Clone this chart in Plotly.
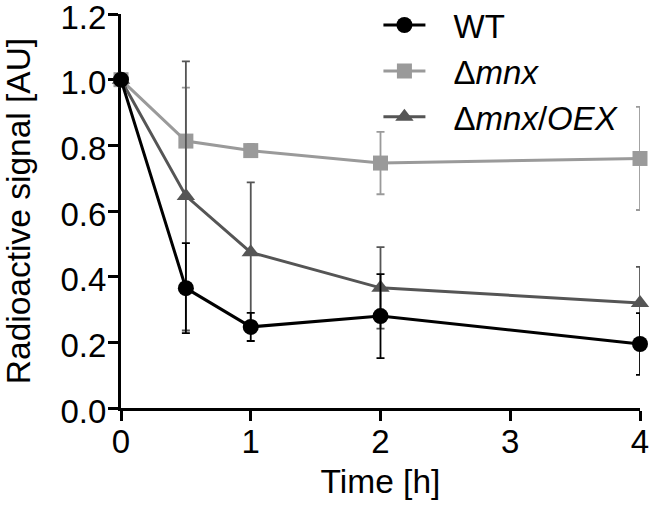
import plotly.graph_objects as go

time_h = [0, 0.5, 1, 2, 4]

wt_mean = [1.0, 0.365, 0.247, 0.280, 0.195]
wt_err = [0.0, 0.137, 0.043, 0.128, 0.094]

mnx_mean = [1.0, 0.813, 0.784, 0.746, 0.760]
mnx_err = [0.0, 0.163, 0.020, 0.095, 0.157]

oex_mean = [1.0, 0.646, 0.474, 0.366, 0.320]
oex_err = [0.0, 0.410, 0.213, 0.124, 0.110]

GAP = "\u2002\u2009"
names = [GAP + "WT", GAP + "Δ<i>mnx</i>", GAP + "Δ<i>mnx</i>/<i>OEX</i>"]
colors = ["#000000", "#9a9a9a", "#555555"]

FONT = "Liberation Sans, Arial, sans-serif"
TICK_FS = 33
TITLE_FS = 33.5
LEG_FS = 33

fig = go.Figure()

series = [
    (mnx_mean, mnx_err, names[1], colors[1], "square", 15, 2),
    (oex_mean, oex_err, names[2], colors[2], "triangle-up", 16, 3),
    (wt_mean, wt_err, names[0], colors[0], "circle", 16, 1),
]
for mean, err, name, col, sym, ms, rank in series:
    fig.add_trace(go.Scatter(
        x=time_h, y=mean, name=name, mode="lines+markers",
        line=dict(color=col, width=3),
        marker=dict(symbol=sym, size=ms, color=col),
        error_y=dict(type="data", array=err, visible=True, color=col,
                     thickness=1.8, width=4),
        legendrank=rank, cliponaxis=False,
    ))

fig.update_layout(
    width=652, height=509,
    margin=dict(l=121, r=12, t=14, b=101, autoexpand=False),
    paper_bgcolor="white", plot_bgcolor="white",
    font=dict(family=FONT, size=TICK_FS, color="black"),
    showlegend=True,
    legend=dict(x=0.496, y=1.043, xanchor="left", yanchor="top",
                bgcolor="rgba(0,0,0,0)", font=dict(size=LEG_FS),
                itemwidth=42, tracegroupgap=0),
    xaxis=dict(range=[0, 4], tickmode="array", tickvals=[0, 1, 2, 3, 4],
               showline=True, linecolor="black", linewidth=3,
               ticks="outside", ticklen=10, tickwidth=3, tickcolor="black",
               showgrid=False, zeroline=False, layer="below traces",
               automargin=False, tickfont=dict(size=TICK_FS),
               ticklabelstandoff=-8, ticklabeloverflow="allow",
               title=dict(text="Time [h]", font=dict(size=TITLE_FS), standoff=11)),
    yaxis=dict(range=[0, 1.2], tickmode="array",
               tickvals=[0, 0.2, 0.4, 0.6, 0.8, 1.0, 1.2], tickformat=".1f",
               showline=True, linecolor="black", linewidth=3,
               ticks="outside", ticklen=10, tickwidth=3, tickcolor="black",
               showgrid=False, zeroline=False, layer="below traces",
               automargin=False, tickfont=dict(size=TICK_FS),
               ticklabelstandoff=-5, ticklabelshift=3, ticklabeloverflow="allow",
               title=dict(text="Radioactive signal [AU]", font=dict(size=TITLE_FS), standoff=23)),
)

fig.write_html(
    "out.html",
    config={"displayModeBar": False},
    post_script="document.body.style.margin='0';document.body.style.padding='0';",
)
